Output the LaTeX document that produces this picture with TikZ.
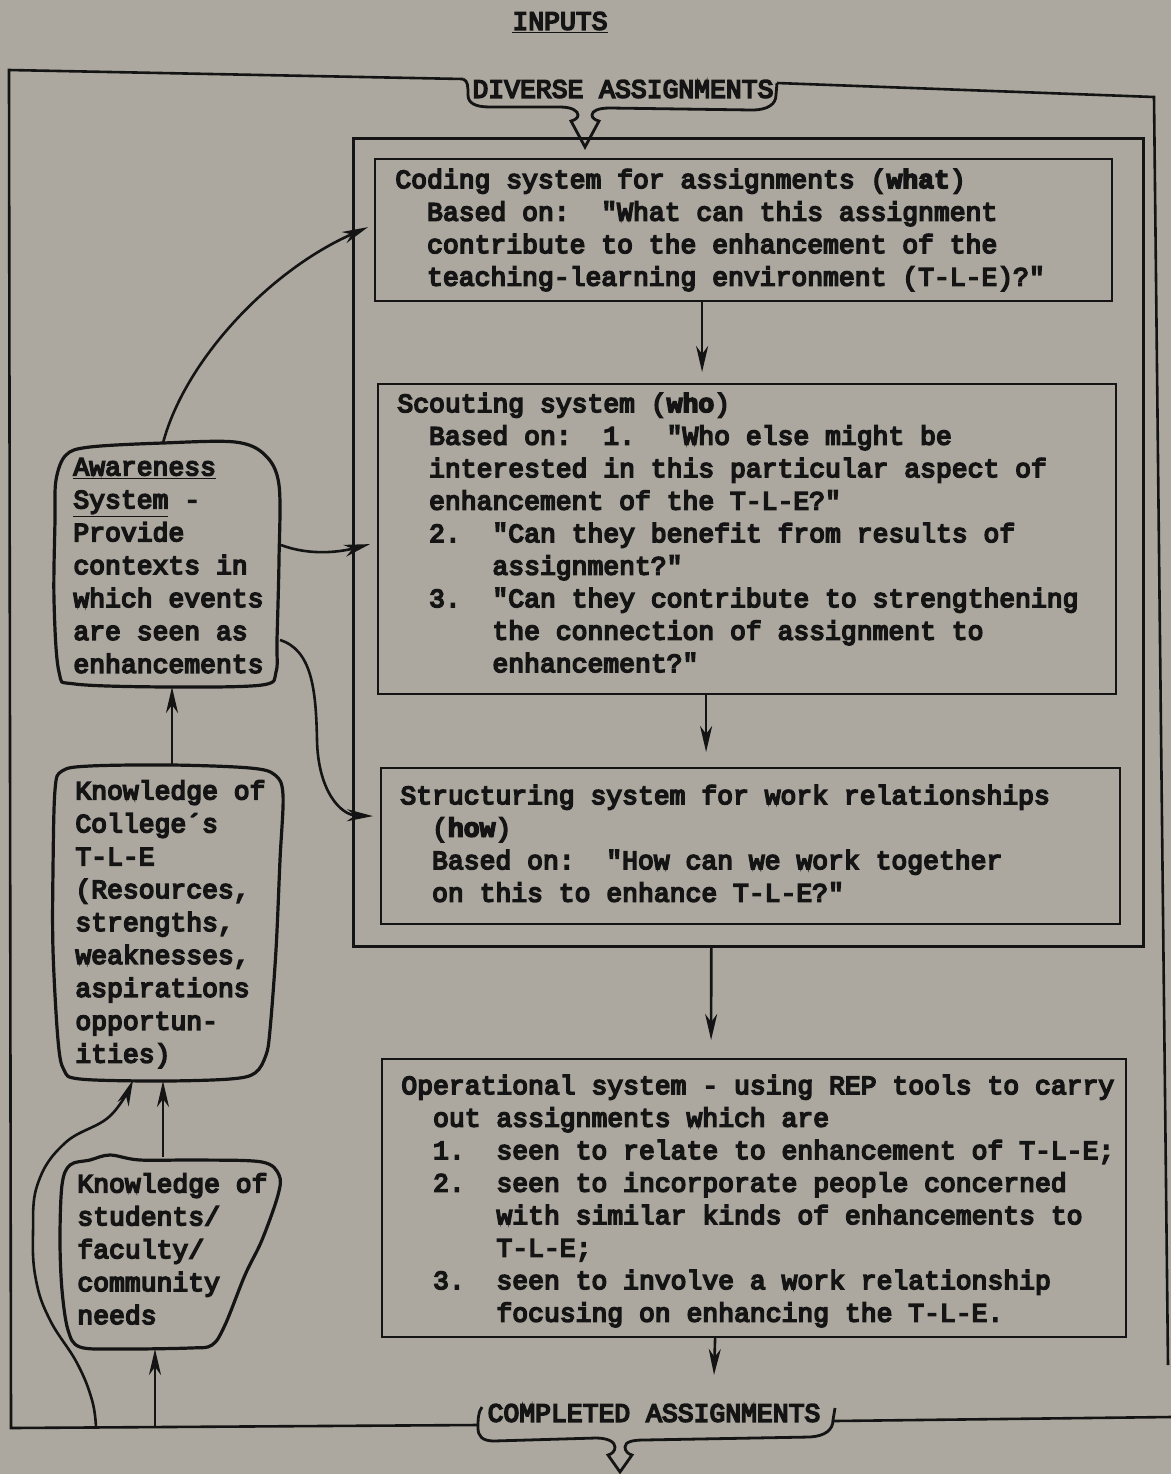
\documentclass[tikz,border=0pt]{standalone}
\usepackage{fontspec}
\newfontfamily\tw{Liberation Mono}[FakeBold=6]
\usetikzlibrary{arrows.meta}
\definecolor{paper}{RGB}{172,168,159}
\definecolor{ink}{RGB}{20,20,20}
\tikzset{
 txt/.style={font=\tw\fontsize{13.2}{16.25}\selectfont, align=left, anchor=north west, inner sep=0pt, text=ink},
 ltxt/.style={txt, font=\tw\fontsize{13.2}{16.45}\selectfont},
 ctxt/.style={font=\tw\fontsize{13.2}{16.25}\selectfont, inner sep=0pt, text=ink},
 sbox/.style={draw=ink, line width=1.1pt, anchor=north west, inner sep=0pt},
 frameline/.style={draw=ink, line width=1.3pt},
 bracel/.style={draw=ink, line width=1.4pt},
 blob/.style={draw=ink, line width=1.6pt},
 arr/.style={draw=ink, line width=1.3pt, -{Stealth[length=13pt,width=6pt,inset=4pt]}},
}
\begin{document}
\begin{tikzpicture}[x=0.5pt,y=-0.5pt]
\fill[paper] (0,0) rectangle (1171,1474);
\useasboundingbox (0,0) rectangle (1171,1474);

% headings
\node[ctxt] (inputs) at (560,23) {\underline{INPUTS}};
\node[ctxt] (diverse) at (623,89) {DIVERSE ASSIGNMENTS};
\node[ctxt] (completed) at (654,1413) {COMPLETED ASSIGNMENTS};

% outer frame
\draw[frameline] (463,79) -- (9,70) -- (11,1428) -- (478,1425);
\draw[frameline] (777,83) -- (1154,97) -- (1168,1365);
\draw[frameline] (834,1421) -- (1171,1417);

% braces
\draw[bracel] (463,79) .. controls (468,81) and (468,86) .. (468,95)
  .. controls (468,103) and (475,107) .. (490,107) -- (560,107)
  .. controls (572,107) and (578,111) .. (578,115)
  .. controls (578,118) and (575,120) .. (571,121) -- (585,147) -- (599,121)
  .. controls (595,120) and (592,118) .. (592,115)
  .. controls (592,111) and (598,108) .. (610,108) -- (752,110)
  .. controls (768,110) and (776,104) .. (776,95) -- (777,83);
\draw[bracel] (482,1407) .. controls (478,1412) and (478,1420) .. (478,1428)
  .. controls (478,1436) and (482,1441) .. (494,1441) -- (596,1438)
  .. controls (608,1438) and (615,1442) .. (615,1447)
  .. controls (615,1451) and (612,1454) .. (608,1455) -- (620,1472) -- (632,1455)
  .. controls (628,1454) and (625,1451) .. (625,1447)
  .. controls (625,1442) and (632,1440) .. (644,1440) -- (810,1437)
  .. controls (825,1436) and (833,1430) .. (833,1420) -- (835,1408);

% inner frame and boxes
\node[sbox, line width=1.3pt, minimum width=395pt, minimum height=404pt] (inner) at (352,137) {};
\node[sbox, minimum width=368.5pt, minimum height=71pt] (coding) at (374,158) {};
\node[sbox, minimum width=369pt, minimum height=155pt] (scouting) at (377,383) {};
\node[sbox, minimum width=369.5pt, minimum height=78pt] (structuring) at (380,767) {};
\node[sbox, minimum width=372pt, minimum height=139pt] (operational) at (381,1058) {};

% box texts
\node[txt] (codingtxt) at (395,165) {\strut Coding system for assignments (\textbf{what})\\
~~Based on:~~"What can this assignment\\
~~contribute to the enhancement of the\\
~~teaching-learning environment (T-L-E)?"};
\node[txt] (scoutingtxt) at (397,389) {\strut Scouting system (\textbf{who})\\
~~Based on:~~1.~~"Who else might be\\
~~interested in this particular aspect of\\
~~enhancement of the T-L-E?"\\
~~2.~~"Can they benefit from results of\\
~~~~~~assignment?"\\
~~3.~~"Can they contribute to strengthening\\
~~~~~~the connection of assignment to\\
~~~~~~enhancement?"};
\node[txt] (structuringtxt) at (400,781) {\strut Structuring system for work relationships\\
~~(\textbf{how})\\
~~Based on:~~"How can we work together\\
~~on this to enhance T-L-E?"};
\node[txt] (operationaltxt) at (401,1071) {\strut Operational system - using REP tools to carry\\
~~out assignments which are\\
~~1.~~seen to relate to enhancement of T-L-E;\\
~~2.~~seen to incorporate people concerned\\
~~~~~~with similar kinds of enhancements to\\
~~~~~~T-L-E;\\
~~3.~~seen to involve a work relationship\\
~~~~~~focusing on enhancing the T-L-E.};

% left blobs
\draw[blob] plot[smooth cycle, tension=0.55] coordinates {(56,480) (66,455) (90,447) (163,443) (235,442) (265,455) (279,485) (279,560) (277,640) (276,672) (262,685) (170,687) (75,684) (59,672) (54,600) (55,520)};
\draw[blob] plot[smooth cycle, tension=0.55] coordinates {(55,790) (62,771) (90,766) (172,765) (250,768) (275,775) (283,795) (280,860) (276,950) (270,1030) (266,1055) (255,1073) (230,1079) (160,1081) (80,1079) (64,1070) (58,1040) (53,950) (53,870)};
\draw[blob] plot[smooth cycle, tension=0.55] coordinates {(62,1185) (70,1165) (90,1160) (110,1155) (140,1160) (200,1160) (262,1162) (279,1175) (278,1195) (262,1240) (245,1275) (225,1325) (212,1345) (190,1348) (120,1349) (80,1347) (68,1330) (62,1290) (60,1240)};

\node[ltxt] (awareness) at (73,452) {\strut\underline{Awareness}\\
\underline{System} -\\
Provide\\
contexts in\\
which events\\
are seen as\\
enhancements};
\node[ltxt] (college) at (75,776) {\strut Knowledge of\\
College´s\\
T-L-E\\
(Resources,\\
strengths,\\
weaknesses,\\
aspirations\\
opportun-\\
ities)};
\node[ltxt] (students) at (77,1169) {\strut Knowledge of\\
students/\\
faculty/\\
community\\
needs};

% connector end points
\coordinate (awTop) at (163,443);
\coordinate (awR1) at (281,545);
\coordinate (awR2) at (280,640);
\coordinate (awBot) at (172,687);
\coordinate (colTop) at (172,766);
\coordinate (colBot) at (163,1081);
\coordinate (colBotL) at (133,1080);
\coordinate (stTop) at (163,1157);
\coordinate (stBot) at (155,1349);
\coordinate (frB1) at (96,1428);
\coordinate (frB2) at (155,1428);
\coordinate (cmpTop) at (714,1375);

% connectors, right column
\draw[arr] ([xshift=-20.75pt]coding.south) -- ([xshift=-22.5pt,yshift=5.5pt]scouting.north);
\draw[arr] ([xshift=-20.5pt]scouting.south) -- ([xshift=-22.25pt,yshift=7.5pt]structuring.north);
\draw[arr] ([xshift=-18.5pt]inner.south) -- ([xshift=-21.5pt,yshift=9pt]operational.north);
\draw[arr] ([xshift=-19.5pt]operational.south) -- (cmpTop);

% connectors, left column
\draw[arr] (awTop) .. controls (185,360) and (270,270) .. ([xshift=-3pt,yshift=1.5pt]coding.west);
\draw[arr] (awR1) .. controls (310,556) and (340,552) .. ([xshift=-3.5pt,yshift=-2.5pt]scouting.west);
\draw[arr] (awR2) .. controls (312,650) and (316,690) .. (317,740) .. controls (318,790) and (340,815) .. ([xshift=-3.5pt,yshift=15pt]structuring.west);
\draw[arr] (colTop) -- (awBot);
\draw[arr] (stTop) -- (colBot);
\draw[arr] plot[smooth, tension=0.7] coordinates {(frB1) (92,1400) (77,1363) (50,1320) (36,1280) (33,1233) (38,1183) (65,1143) (110,1116) (colBotL)};
\draw[arr] (frB2) -- (stBot);
\end{tikzpicture}
\end{document}
